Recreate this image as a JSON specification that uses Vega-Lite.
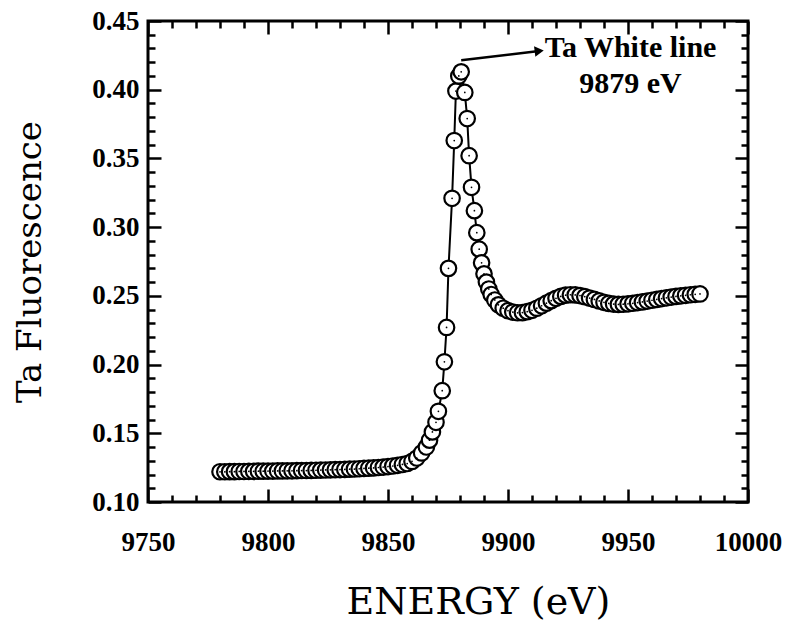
{
  "$schema": "https://vega.github.io/schema/vega-lite/v6.json",
  "width": 600,
  "height": 481,
  "autosize": {"type": "none"},
  "padding": {"left": 148, "top": 21, "right": 39, "bottom": 124},
  "background": "white",
  "config": {
    "view": {"stroke": "black", "strokeWidth": 3},
    "axis": {"grid": false, "domain": false, "tickColor": "black", "tickWidth": 2.5, "labelColor": "black", "titleColor": "black"}
  },
  "datasets": {
    "main": [
      {"E": 9780, "F": 0.1220}, {"E": 9782, "F": 0.1220}, {"E": 9784, "F": 0.1221}, {"E": 9786, "F": 0.1221},
      {"E": 9788, "F": 0.1222}, {"E": 9790, "F": 0.1222}, {"E": 9792, "F": 0.1223}, {"E": 9794, "F": 0.1223},
      {"E": 9796, "F": 0.1224}, {"E": 9798, "F": 0.1224}, {"E": 9800, "F": 0.1225}, {"E": 9802, "F": 0.1225},
      {"E": 9804, "F": 0.1226}, {"E": 9806, "F": 0.1226}, {"E": 9808, "F": 0.1227}, {"E": 9810, "F": 0.1227},
      {"E": 9812, "F": 0.1228}, {"E": 9814, "F": 0.1229}, {"E": 9816, "F": 0.1229}, {"E": 9818, "F": 0.1230},
      {"E": 9820, "F": 0.1231}, {"E": 9822, "F": 0.1232}, {"E": 9824, "F": 0.1233}, {"E": 9826, "F": 0.1234},
      {"E": 9828, "F": 0.1235}, {"E": 9830, "F": 0.1236}, {"E": 9832, "F": 0.1237}, {"E": 9834, "F": 0.1239},
      {"E": 9836, "F": 0.1240}, {"E": 9838, "F": 0.1242}, {"E": 9840, "F": 0.1244}, {"E": 9842, "F": 0.1246},
      {"E": 9844, "F": 0.1248}, {"E": 9846, "F": 0.1251}, {"E": 9848, "F": 0.1254}, {"E": 9850, "F": 0.1258},
      {"E": 9852, "F": 0.1262}, {"E": 9854, "F": 0.1267}, {"E": 9856, "F": 0.1273}, {"E": 9858, "F": 0.1280},
      {"E": 9860, "F": 0.1295}, {"E": 9862, "F": 0.1320}, {"E": 9864, "F": 0.1357}, {"E": 9866, "F": 0.1400},
      {"E": 9867.3, "F": 0.1450}, {"E": 9868.5, "F": 0.1510}, {"E": 9870, "F": 0.1580}, {"E": 9871, "F": 0.1660},
      {"E": 9872.6, "F": 0.1810}, {"E": 9873.5, "F": 0.2020}, {"E": 9874.4, "F": 0.2270}, {"E": 9875.2, "F": 0.2700},
      {"E": 9876.7, "F": 0.3210}, {"E": 9877.6, "F": 0.3630}, {"E": 9878.3, "F": 0.3990}, {"E": 9879.5, "F": 0.4100},
      {"E": 9880.5, "F": 0.4130}, {"E": 9882, "F": 0.3980}, {"E": 9883, "F": 0.3790}, {"E": 9883.8, "F": 0.3520},
      {"E": 9884.8, "F": 0.3290}, {"E": 9886, "F": 0.3120}, {"E": 9887, "F": 0.2960}, {"E": 9888, "F": 0.2840},
      {"E": 9889, "F": 0.2740}, {"E": 9890, "F": 0.2660}, {"E": 9891, "F": 0.2600}, {"E": 9892, "F": 0.2550},
      {"E": 9893, "F": 0.2510}, {"E": 9894.5, "F": 0.2470}, {"E": 9896, "F": 0.2435}, {"E": 9898, "F": 0.2410},
      {"E": 9900, "F": 0.2392}, {"E": 9902, "F": 0.2382}, {"E": 9904, "F": 0.2377}, {"E": 9906, "F": 0.2378},
      {"E": 9908, "F": 0.2385}, {"E": 9910, "F": 0.2395}, {"E": 9912, "F": 0.2410}, {"E": 9914, "F": 0.2428},
      {"E": 9916, "F": 0.2447}, {"E": 9918, "F": 0.2465}, {"E": 9920, "F": 0.2482}, {"E": 9922, "F": 0.2496},
      {"E": 9924, "F": 0.2505}, {"E": 9926, "F": 0.2508}, {"E": 9928, "F": 0.2507}, {"E": 9930, "F": 0.2502},
      {"E": 9932, "F": 0.2494}, {"E": 9934, "F": 0.2484}, {"E": 9936, "F": 0.2474}, {"E": 9938, "F": 0.2463},
      {"E": 9940, "F": 0.2453}, {"E": 9942, "F": 0.2445}, {"E": 9944, "F": 0.2440}, {"E": 9946, "F": 0.2438},
      {"E": 9948, "F": 0.2439}, {"E": 9950, "F": 0.2442}, {"E": 9952, "F": 0.2446}, {"E": 9954, "F": 0.2451},
      {"E": 9956, "F": 0.2456}, {"E": 9958, "F": 0.2462}, {"E": 9960, "F": 0.2468}, {"E": 9962, "F": 0.2474},
      {"E": 9964, "F": 0.2480}, {"E": 9966, "F": 0.2486}, {"E": 9968, "F": 0.2491}, {"E": 9970, "F": 0.2496},
      {"E": 9972, "F": 0.2500}, {"E": 9974, "F": 0.2504}, {"E": 9976, "F": 0.2508}, {"E": 9978, "F": 0.2511},
      {"E": 9980, "F": 0.2514}
    ],
    "arrow": [{"E": 9880.5, "F": 0.4215, "E2": 9913, "F2": 0.4282}],
    "head": [{"E": 9913, "F": 0.4282}],
    "label1": [{"E": 9915.3, "F": 0.4239, "text": "Ta White line"}],
    "label2": [{"E": 9951, "F": 0.3977, "text": "9879 eV"}]
  },
  "resolve": {"axis": {"x": "independent", "y": "independent"}},
  "layer": [
    {
      "data": {"name": "main"},
      "mark": {"type": "line", "color": "black", "strokeWidth": 2},
      "encoding": {
        "x": {"field": "E", "type": "quantitative",
              "scale": {"domain": [9750, 10000], "nice": false, "zero": false},
              "axis": {"orient": "bottom", "values": [9750, 9800, 9850, 9900, 9950, 10000], "format": "d",
                       "tickSize": -13, "labelFont": "Liberation Serif", "labelFontWeight": "bold", "labelFontSize": 27,
                       "labelPadding": 40, "labelFlush": false, "labelOverlap": false,
                       "title": "ENERGY (eV)", "titleFont": "DejaVu Serif", "titleFontSize": 38, "titleFontWeight": "normal", "titlePadding": 28, "titleX": 330}},
        "y": {"field": "F", "type": "quantitative",
              "scale": {"domain": [0.10, 0.45], "nice": false, "zero": false},
              "axis": {"orient": "left", "values": [0.10, 0.15, 0.20, 0.25, 0.30, 0.35, 0.40, 0.45], "format": ".2f",
                       "tickSize": -13, "labelFont": "Liberation Serif", "labelFontWeight": "bold", "labelFontSize": 27,
                       "labelPadding": 22, "labelFlush": false, "labelOverlap": false, "labelBaseline": "middle",
                       "title": "Ta  Fluorescence", "titleFont": "DejaVu Serif", "titleFontSize": 34, "titleFontWeight": "normal", "titlePadding": 44}}
      }
    },
    {
      "data": {"name": "main"},
      "mark": {"type": "point", "shape": "circle", "size": 240, "filled": true, "fill": "white", "stroke": "black", "strokeWidth": 2.2, "opacity": 1},
      "encoding": {
        "x": {"field": "E", "type": "quantitative",
              "axis": {"orient": "top", "values": [9750, 9800, 9850, 9900, 9950, 10000], "tickSize": -13, "labels": false, "title": null}},
        "y": {"field": "F", "type": "quantitative",
              "axis": {"orient": "right", "values": [0.10, 0.15, 0.20, 0.25, 0.30, 0.35, 0.40, 0.45], "tickSize": -13, "labels": false, "title": null}}
      }
    },
    {
      "data": {"name": "main"},
      "mark": {"type": "point", "shape": "circle", "size": 3, "filled": true, "color": "black", "opacity": 1},
      "encoding": {
        "x": {"field": "E", "type": "quantitative",
              "axis": {"orient": "bottom", "values": [9760, 9770, 9780, 9790, 9810, 9820, 9830, 9840, 9860, 9870, 9880, 9890, 9910, 9920, 9930, 9940, 9960, 9970, 9980, 9990], "tickSize": -7, "labels": false, "title": null}},
        "y": {"field": "F", "type": "quantitative",
              "axis": {"orient": "left", "values": [0.11, 0.12, 0.13, 0.14, 0.16, 0.17, 0.18, 0.19, 0.21, 0.22, 0.23, 0.24, 0.26, 0.27, 0.28, 0.29, 0.31, 0.32, 0.33, 0.34, 0.36, 0.37, 0.38, 0.39, 0.41, 0.42, 0.43, 0.44], "tickSize": -7, "labels": false, "title": null}}
      }
    },
    {
      "data": {"name": "arrow"},
      "mark": {"type": "rule", "color": "black", "strokeWidth": 2.5},
      "encoding": {
        "x": {"field": "E", "type": "quantitative",
              "axis": {"orient": "top", "values": [9760, 9770, 9780, 9790, 9810, 9820, 9830, 9840, 9860, 9870, 9880, 9890, 9910, 9920, 9930, 9940, 9960, 9970, 9980, 9990], "tickSize": -7, "labels": false, "title": null}},
        "y": {"field": "F", "type": "quantitative",
              "axis": {"orient": "right", "values": [0.11, 0.12, 0.13, 0.14, 0.16, 0.17, 0.18, 0.19, 0.21, 0.22, 0.23, 0.24, 0.26, 0.27, 0.28, 0.29, 0.31, 0.32, 0.33, 0.34, 0.36, 0.37, 0.38, 0.39, 0.41, 0.42, 0.43, 0.44], "tickSize": -7, "labels": false, "title": null}},
        "x2": {"field": "E2"},
        "y2": {"field": "F2"}
      }
    },
    {
      "data": {"name": "head"},
      "mark": {"type": "point", "shape": "triangle-right", "size": 110, "filled": true, "color": "black", "opacity": 1, "angle": -7},
      "encoding": {
        "x": {"field": "E", "type": "quantitative", "axis": null},
        "y": {"field": "F", "type": "quantitative", "axis": null}
      }
    },
    {
      "data": {"name": "label1"},
      "mark": {"type": "text", "font": "Liberation Serif", "fontWeight": "bold", "fontSize": 30, "color": "black", "baseline": "alphabetic", "align": "left"},
      "encoding": {
        "x": {"field": "E", "type": "quantitative", "axis": null},
        "y": {"field": "F", "type": "quantitative", "axis": null},
        "text": {"field": "text"}
      }
    },
    {
      "data": {"name": "label2"},
      "mark": {"type": "text", "font": "Liberation Serif", "fontWeight": "bold", "fontSize": 30, "color": "black", "baseline": "alphabetic", "align": "center"},
      "encoding": {
        "x": {"field": "E", "type": "quantitative", "axis": null},
        "y": {"field": "F", "type": "quantitative", "axis": null},
        "text": {"field": "text"}
      }
    }
  ]
}
